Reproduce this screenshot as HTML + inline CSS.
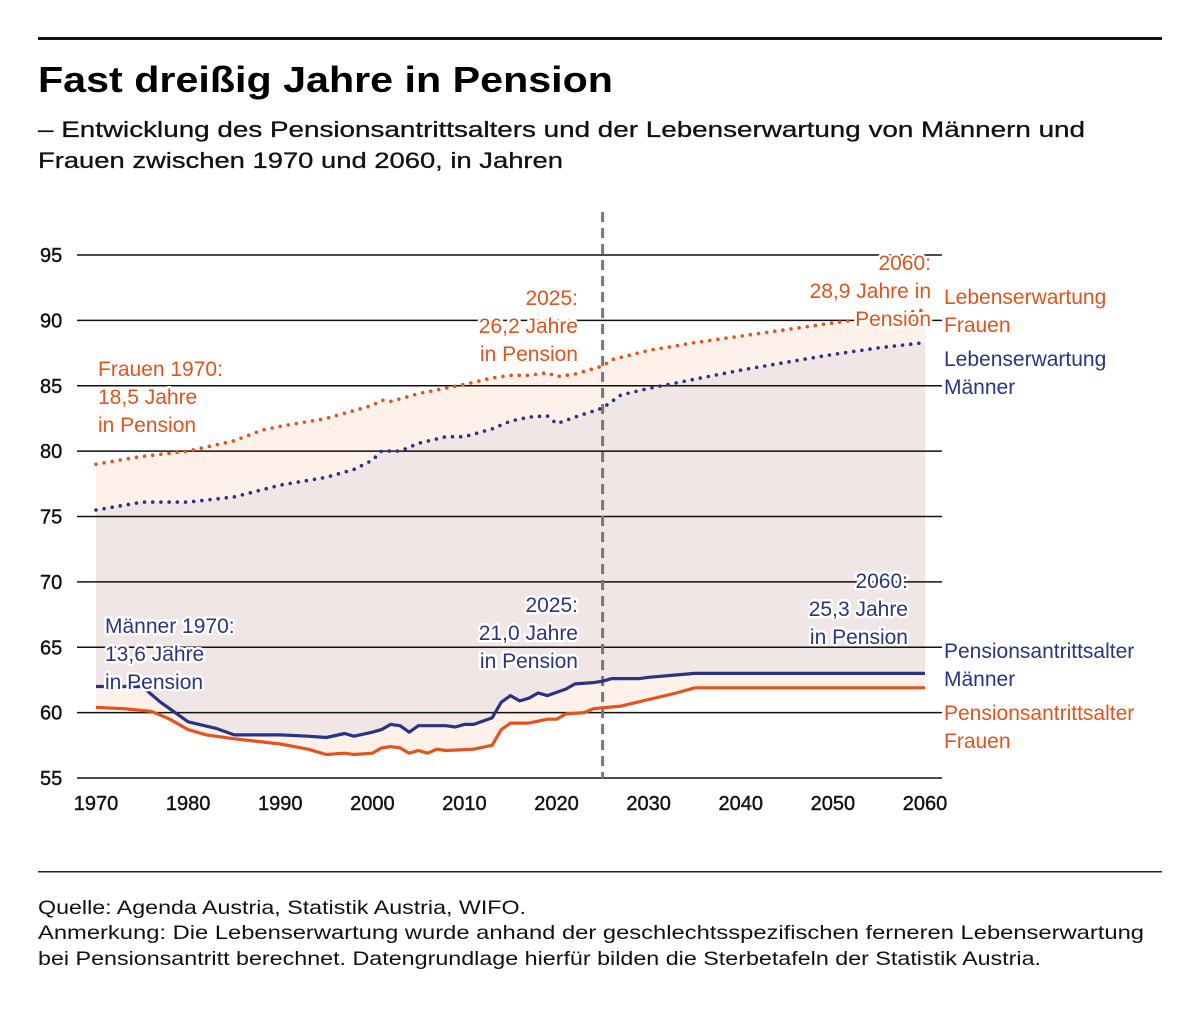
<!DOCTYPE html>
<html><head><meta charset="utf-8"><style>
body{margin:0;background:#fff;}
svg{display:block;font-family:"Liberation Sans",sans-serif;}
.lbl{paint-order:stroke;stroke:#fff;stroke-width:5px;stroke-linejoin:round;}
</style></head><body>
<svg id="chart" width="1200" height="1009" viewBox="0 0 1200 1009">
<rect x="38" y="37" width="1124" height="3" fill="#111"/>
<text x="38" y="92" font-size="36" font-weight="bold" fill="#000" textLength="575" lengthAdjust="spacingAndGlyphs">Fast dreißig Jahre in Pension</text>
<text x="38" y="137" font-size="22.5" fill="#111" stroke="#111" stroke-width="0.3" textLength="1047" lengthAdjust="spacingAndGlyphs">– Entwicklung des Pensionsantrittsalters und der Lebenserwartung von Männern und</text>
<text x="38" y="168" font-size="22.5" fill="#111" stroke="#111" stroke-width="0.3" textLength="525" lengthAdjust="spacingAndGlyphs">Frauen zwischen 1970 und 2060, in Jahren</text>
<g id="fills"></g><g id="grid"></g><g id="lines"></g><g id="labels"></g>
<rect x="38" y="871" width="1124" height="1.5" fill="#222"/>
<text x="38" y="914" font-size="19.5" fill="#111" textLength="488" lengthAdjust="spacingAndGlyphs">Quelle: Agenda Austria, Statistik Austria, WIFO.</text>
<text x="38" y="939" font-size="19.5" fill="#111" textLength="1106" lengthAdjust="spacingAndGlyphs">Anmerkung: Die Lebenserwartung wurde anhand der geschlechtsspezifischen ferneren Lebenserwartung</text>
<text x="38" y="965" font-size="19.5" fill="#111" textLength="1003" lengthAdjust="spacingAndGlyphs">bei Pensionsantritt berechnet. Datengrundlage hierfür bilden die Sterbetafeln der Statistik Austria.</text>
</svg>
<script>
const yTicks=[55,60,65,70,75,80,85,90,95];
const xTicks=[1970,1980,1990,2000,2010,2020,2030,2040,2050,2060];
const mpYears=[1970,1975,1977,1980,1983,1985,1990,1993,1995,1997,1998,2000,2001,2002,2003,2004,2005,2008,2009,2010,2011,2013,2014,2015,2016,2017,2018,2019,2021,2022,2024,2025,2026,2029,2030,2035,2060];
const mpVals=[62,62,60.8,59.3,58.8,58.3,58.3,58.2,58.1,58.4,58.2,58.5,58.7,59.1,59.0,58.5,59.0,59.0,58.9,59.1,59.1,59.6,60.8,61.3,60.9,61.1,61.5,61.3,61.8,62.2,62.3,62.4,62.6,62.6,62.7,63.0,63.0];
const fpYears=[1970,1973,1976,1978,1980,1982,1985,1990,1993,1995,1997,1998,2000,2001,2002,2003,2004,2005,2006,2007,2008,2011,2013,2014,2015,2017,2019,2020,2021,2023,2024,2027,2030,2033,2035,2060];
const fpVals=[60.4,60.3,60.1,59.5,58.7,58.3,58.0,57.6,57.2,56.8,56.9,56.8,56.9,57.3,57.4,57.3,56.9,57.1,56.9,57.2,57.1,57.2,57.5,58.7,59.2,59.2,59.5,59.5,59.9,60.0,60.3,60.5,61.0,61.5,61.9,61.9];
const fleYears=[1970,1975,1980,1985,1988,1990,1995,1998,2000,2001,2002,2005,2010,2013,2015,2017,2019,2020,2022,2025,2026,2030,2035,2040,2045,2050,2055,2060];
const fleVals=[79.0,79.6,80.0,80.8,81.6,81.9,82.5,83.1,83.5,83.9,83.8,84.4,85.1,85.6,85.8,85.8,86.0,85.7,85.9,86.5,87.0,87.7,88.3,88.8,89.3,89.8,90.3,90.8];
const mleYears=[1970,1975,1980,1985,1990,1995,1998,2000,2001,2003,2005,2008,2010,2013,2015,2017,2019,2020,2022,2025,2027,2030,2035,2040,2045,2050,2055,2060];
const mleVals=[75.5,76.1,76.1,76.5,77.4,78.0,78.6,79.3,80.0,80.0,80.6,81.1,81.1,81.7,82.3,82.6,82.7,82.1,82.6,83.3,84.3,84.8,85.5,86.2,86.8,87.4,87.9,88.3];
const NS='http://www.w3.org/2000/svg';
const X=y=>96+(y-1970)*(925-96)/90;
const Y=v=>778-(v-55)*(778-255)/40;
const OR='#e4531b',BL='#2b3384';
function mk(tag,attrs,parent){const e=document.createElementNS(NS,tag);for(const k in attrs)e.setAttribute(k,attrs[k]);document.getElementById(parent).appendChild(e);return e;}
const pts=(ys,vs)=>ys.map((y,i)=>X(y).toFixed(1)+','+Y(vs[i]).toFixed(1));
function band(ya,va,yb,vb,fill,name){const p=mk('polygon',{points:pts(ya,va).concat(pts(yb,vb).reverse()).join(' '),fill:fill},'fills');

}
band(fleYears,fleVals,mleYears,mleVals,'#fdf1ea','band-women-life-expectancy');
band(mleYears,mleVals,mpYears,mpVals,'#f0e6e6','band-men-retirement-years');
band(mpYears,mpVals,fpYears,fpVals,'#fdf1ea','band-pension-age-gap');
yTicks.forEach(v=>{if(v>55){const l=mk('line',{x1:77,x2:942,y1:Y(v),y2:Y(v),stroke:'#111','stroke-width':1.5},'grid');

}
const t=mk('text',{x:40,y:Y(v)+7,'font-size':20,fill:'#111',stroke:'#111','stroke-width':0.4},'grid');t.textContent=v;

});
const ax=mk('line',{x1:77,x2:942,y1:778,y2:778,stroke:'#111','stroke-width':1.5},'grid');


xTicks.forEach(y=>{const t=mk('text',{x:X(y),y:810,'font-size':20,fill:'#111',stroke:'#111','stroke-width':0.4,'text-anchor':'middle'},'grid');t.textContent=y;

});
const vl=mk('line',{x1:X(2025),x2:X(2025),y1:212,y2:778,stroke:'#777','stroke-width':3,'stroke-dasharray':'10 6'},'grid');


function line(ys,vs,col,dotted,name){const a={points:pts(ys,vs).join(' '),fill:'none',stroke:col,'stroke-linejoin':'round'};
if(dotted){a['stroke-width']=3.6;a['stroke-dasharray']='0 8.2';a['stroke-linecap']='round';}else{a['stroke-width']=3.2;}
const p=mk('polyline',a,'lines');

}
line(fleYears,fleVals,OR,true,'line-life-expectancy-women');
line(mleYears,mleVals,BL,true,'line-life-expectancy-men');
line(fpYears,fpVals,OR,false,'line-pension-age-women');
line(mpYears,mpVals,BL,false,'line-pension-age-men');
function lab(lines,x,y,col,anchor,name,halo){const t=mk('text',{x:x,y:y,fill:col,'text-anchor':anchor,'font-size':21},'labels');
if(halo)t.setAttribute('class','lbl');
lines.forEach((s,i)=>{const ts=document.createElementNS(NS,'tspan');ts.setAttribute('x',x);ts.setAttribute('dy',i?28:0);ts.textContent=s;t.appendChild(ts);});

}
lab(['Frauen 1970:','18,5 Jahre','in Pension'],98,376,OR,'start','annotation-women-1970',true);
lab(['2025:','26,2 Jahre','in Pension'],578,305,OR,'end','annotation-women-2025',true);
lab(['2060:','28,9 Jahre in','Pension'],931,270,OR,'end','annotation-women-2060',true);
lab(['Männer 1970:','13,6 Jahre','in Pension'],105,633,BL,'start','annotation-men-1970',true);
lab(['2025:','21,0 Jahre','in Pension'],578,612,BL,'end','annotation-men-2025',true);
lab(['2060:','25,3 Jahre','in Pension'],908,588,BL,'end','annotation-men-2060',true);
lab(['Lebenserwartung','Frauen'],944,304,OR,'start','legend-life-expectancy-women',false);
lab(['Lebenserwartung','Männer'],944,366,BL,'start','legend-life-expectancy-men',false);
lab(['Pensionsantrittsalter','Männer'],944,658,BL,'start','legend-pension-age-men',false);
lab(['Pensionsantrittsalter','Frauen'],944,720,OR,'start','legend-pension-age-women',false);
</script>
</body></html>
